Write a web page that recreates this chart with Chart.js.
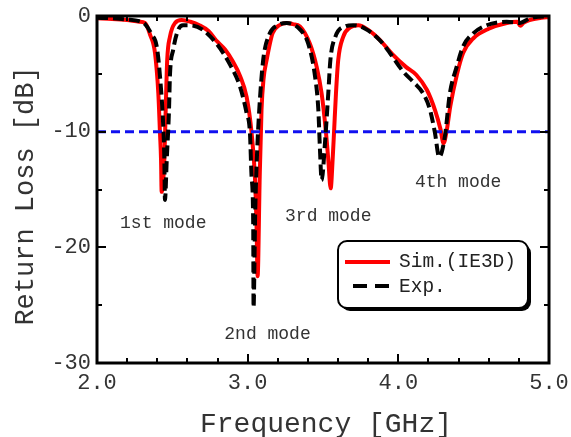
<!DOCTYPE html>
<html>
<head>
<meta charset="utf-8">
<script src="https://cdn.jsdelivr.net/npm/chart.js@4.4.1/dist/chart.umd.min.js"></script>
<style>
  html, body { margin: 0; padding: 0; background: #fff; }
  canvas { display: block; }
</style>
</head>
<body>
<canvas id="rlChart" width="571" height="437"></canvas>
<script>
// simulated return loss (IE3D)
const simFreq = [2.00, 2.10, 2.20, 2.28, 2.319, 2.352, 2.385, 2.407, 2.418, 2.425, 2.429, 2.447, 2.456, 2.466, 2.484, 2.518, 2.562,
  2.62, 2.68, 2.74, 2.79, 2.85, 2.90, 2.95, 2.993, 3.026, 3.048, 3.059, 3.066, 3.08, 3.092, 3.105, 3.126, 3.165, 3.21, 3.259,
  3.30, 3.347, 3.413, 3.458, 3.491, 3.52, 3.535, 3.551, 3.564, 3.573, 3.586, 3.601, 3.634, 3.68, 3.734, 3.80, 3.88, 3.96,
  4.05, 4.12, 4.19, 4.245, 4.28, 4.30, 4.32, 4.345, 4.39, 4.43, 4.50, 4.60, 4.72, 4.79, 4.81, 4.83, 4.87, 4.95, 5.00];
const simDb = [-0.2, -0.25, -0.35, -0.5, -0.6, -1.6, -3.2, -6.7, -10.1, -12.4, -15.2, -12.4, -8.1, -3.8, -1.8, -0.6, -0.35,
  -0.5, -0.8, -1.3, -2.1, -2.9, -3.9, -5.2, -7.0, -10.1, -13.9, -18.2, -22.5, -13.9, -8.1, -5.5, -3.8, -1.5, -0.8, -0.6,
  -0.7, -0.9, -2.4, -4.4, -6.7, -10.1, -12.4, -14.9, -12.4, -10.1, -6.7, -3.8, -1.8, -1.0, -0.8, -1.2, -2.1, -3.3,
  -4.4, -5.1, -6.4, -8.2, -9.8, -11.0, -10.0, -7.8, -5.0, -3.2, -1.9, -1.1, -0.6, -0.5, -0.85, -0.6, -0.35, -0.15, -0.1];

// measured return loss
const expFreq = [2.00, 2.10, 2.20, 2.28, 2.319, 2.363, 2.396, 2.418, 2.44, 2.447, 2.451, 2.463, 2.478, 2.484, 2.506, 2.539, 2.571,
  2.617, 2.703, 2.794, 2.883, 2.949, 2.993, 3.015, 3.026, 3.037, 3.039, 3.05, 3.062, 3.077, 3.103, 3.147, 3.20, 3.259,
  3.35, 3.402, 3.447, 3.469, 3.48, 3.491, 3.513, 3.535, 3.549, 3.582, 3.648, 3.70, 3.78, 3.878, 3.944,
  4.032, 4.099, 4.165, 4.21, 4.243, 4.271, 4.309, 4.342, 4.387, 4.431, 4.497, 4.586, 4.719, 4.807, 4.873, 4.984, 5.00];
const expDb = [-0.15, -0.2, -0.3, -0.45, -0.7, -1.6, -2.6, -5.2, -9.6, -12.4, -15.9, -12.4, -8.1, -5.2, -2.9, -1.2, -0.8,
  -0.8, -1.2, -2.4, -4.2, -6.1, -8.4, -10.1, -13.9, -18.2, -25.2, -17.0, -12.0, -8.1, -3.8, -1.5, -0.8, -0.6,
  -1.2, -2.4, -5.2, -8.1, -11.6, -14.2, -11.0, -6.7, -3.8, -1.8, -0.9, -0.8, -1.1, -2.1, -3.2,
  -4.8, -5.7, -6.7, -8.1, -10.1, -12.2, -10.4, -6.7, -4.4, -2.6, -1.5, -0.8, -0.5, -0.6, -0.2, -0.05, -0.05];

// -10 dB reference line
const refFreq = [2.0, 5.0];
const refDb = [-10, -10];

const xTicks = [2, 3, 4, 5];
const yTicks = [0, -10, -20, -30];
const xMinorStep = 0.2;
const yMinorStep = 5;

const seriesNames = ['Sim.(IE3D)', 'Exp.'];
const modeNames = ['1st mode', '2nd mode', '3rd mode', '4th mode'];
const modeFreq = [2.153, 2.845, 3.248, 4.11];
const modeDb = [-17.95, -27.55, -17.35, -14.4];

const FONT = "'Liberation Mono', 'Courier New', monospace";

const toPoints = (xs, ys) => xs.map((v, i) => ({ x: v, y: ys[i] }));

function roundRect(ctx, x, y, w, h, r) {
  ctx.beginPath();
  ctx.moveTo(x + r, y);
  ctx.arcTo(x + w, y, x + w, y + h, r);
  ctx.arcTo(x + w, y + h, x, y + h, r);
  ctx.arcTo(x, y + h, x, y, r);
  ctx.arcTo(x, y, x + w, y, r);
  ctx.closePath();
}

const decor = {
  id: 'decor',
  afterDatasetsDraw(chart) {
    const { ctx, chartArea: a, scales: { x, y } } = chart;
    ctx.save();
    ctx.strokeStyle = '#000';
    ctx.lineWidth = 3;
    ctx.strokeRect(a.left, a.top, a.right - a.left, a.bottom - a.top);

    // inward ticks
    ctx.lineWidth = 2;
    ctx.beginPath();
    const n = Math.round((xTicks[xTicks.length - 1] - xTicks[0]) / xMinorStep);
    for (let i = 0; i <= n; i++) {
      const v = xTicks[0] + i * xMinorStep;
      const len = xTicks.some(t => Math.abs(t - v) < 1e-6) ? 9 : 5;
      const px = Math.round(x.getPixelForValue(v));
      ctx.moveTo(px, a.bottom); ctx.lineTo(px, a.bottom - len);
      ctx.moveTo(px, a.top); ctx.lineTo(px, a.top + len);
    }
    for (let v = yTicks[0]; v >= yTicks[yTicks.length - 1]; v -= yMinorStep) {
      const len = yTicks.includes(v) ? 9 : 5;
      const py = Math.round(y.getPixelForValue(v));
      ctx.moveTo(a.left, py); ctx.lineTo(a.left + len, py);
      ctx.moveTo(a.right, py); ctx.lineTo(a.right - len, py);
    }
    ctx.stroke();

    // mode labels
    ctx.fillStyle = '#333';
    ctx.font = '18px ' + FONT;
    ctx.textAlign = 'left';
    ctx.textBaseline = 'middle';
    modeNames.forEach((t, i) => {
      ctx.fillText(t, x.getPixelForValue(modeFreq[i]), y.getPixelForValue(modeDb[i]));
    });

    // legend box
    const bx = 338, by = 241, bw = 190, bh = 67;
    ctx.fillStyle = '#000';
    roundRect(ctx, bx + 3, by + 3, bw, bh, 9);
    ctx.fill();
    ctx.fillStyle = '#fff';
    roundRect(ctx, bx, by, bw, bh, 9);
    ctx.fill();
    ctx.lineWidth = 2;
    ctx.stroke();

    ctx.lineWidth = 4;
    ctx.strokeStyle = '#ff0000';
    ctx.beginPath(); ctx.moveTo(345, 262); ctx.lineTo(390, 262); ctx.stroke();
    ctx.strokeStyle = '#000';
    ctx.setLineDash([14, 8]);
    ctx.beginPath(); ctx.moveTo(353, 286); ctx.lineTo(390, 286); ctx.stroke();
    ctx.setLineDash([]);

    ctx.fillStyle = '#222';
    ctx.font = '19.5px ' + FONT;
    ctx.fillText(seriesNames[0], 399, 262);
    ctx.fillText(seriesNames[1], 399, 287);

    // axis titles
    ctx.fillStyle = '#333';
    ctx.font = '28px ' + FONT;
    ctx.textAlign = 'center';
    ctx.textBaseline = 'alphabetic';
    ctx.fillText('Frequency [GHz]', 326, 432);
    ctx.translate(33, 196);
    ctx.rotate(-Math.PI / 2);
    ctx.font = '27px ' + FONT;
    ctx.fillText('Return Loss [dB]', 0, 0);
    ctx.restore();
  }
};

new Chart(document.getElementById('rlChart'), {
  type: 'line',
  data: {
    datasets: [
      {
        label: seriesNames[1],
        data: toPoints(expFreq, expDb),
        borderColor: '#000',
        borderWidth: 4,
        borderDash: [11, 5],
        order: 0
      },
      {
        label: '-10 dB',
        data: toPoints(refFreq, refDb),
        borderColor: '#1010f0',
        borderWidth: 3,
        borderDash: [9, 5],
        order: 1
      },
      {
        label: seriesNames[0],
        data: toPoints(simFreq, simDb),
        borderColor: '#ff0000',
        borderWidth: 4,
        order: 2
      }
    ]
  },
  options: {
    responsive: false,
    animation: false,
    devicePixelRatio: 1,
    layout: { padding: { top: 16, right: 22, left: 0, bottom: 0 } },
    elements: {
      point: { radius: 0 },
      line: { cubicInterpolationMode: 'monotone', fill: false }
    },
    plugins: {
      legend: { display: false },
      tooltip: { enabled: false }
    },
    scales: {
      x: {
        type: 'linear',
        min: 2,
        max: 5,
        afterBuildTicks: s => { s.ticks = xTicks.map(v => ({ value: v })); },
        afterFit: s => { s.height = 74; s.paddingLeft = 0; s.paddingRight = 0; },
        grid: { display: false, drawTicks: false },
        border: { display: false },
        ticks: {
          autoSkip: false,
          maxRotation: 0,
          padding: 7,
          color: '#333',
          font: { family: FONT, size: 22 },
          callback: v => v.toFixed(1)
        }
      },
      y: {
        type: 'linear',
        min: -30,
        max: 0,
        afterBuildTicks: s => { s.ticks = yTicks.map(v => ({ value: v })); },
        afterFit: s => { s.width = 97; s.paddingTop = 0; s.paddingBottom = 0; },
        grid: { display: false, drawTicks: false },
        border: { display: false },
        ticks: {
          padding: 6,
          color: '#333',
          font: { family: FONT, size: 22 },
          callback: v => String(v)
        }
      }
    }
  },
  plugins: [decor]
});
</script>
</body>
</html>
